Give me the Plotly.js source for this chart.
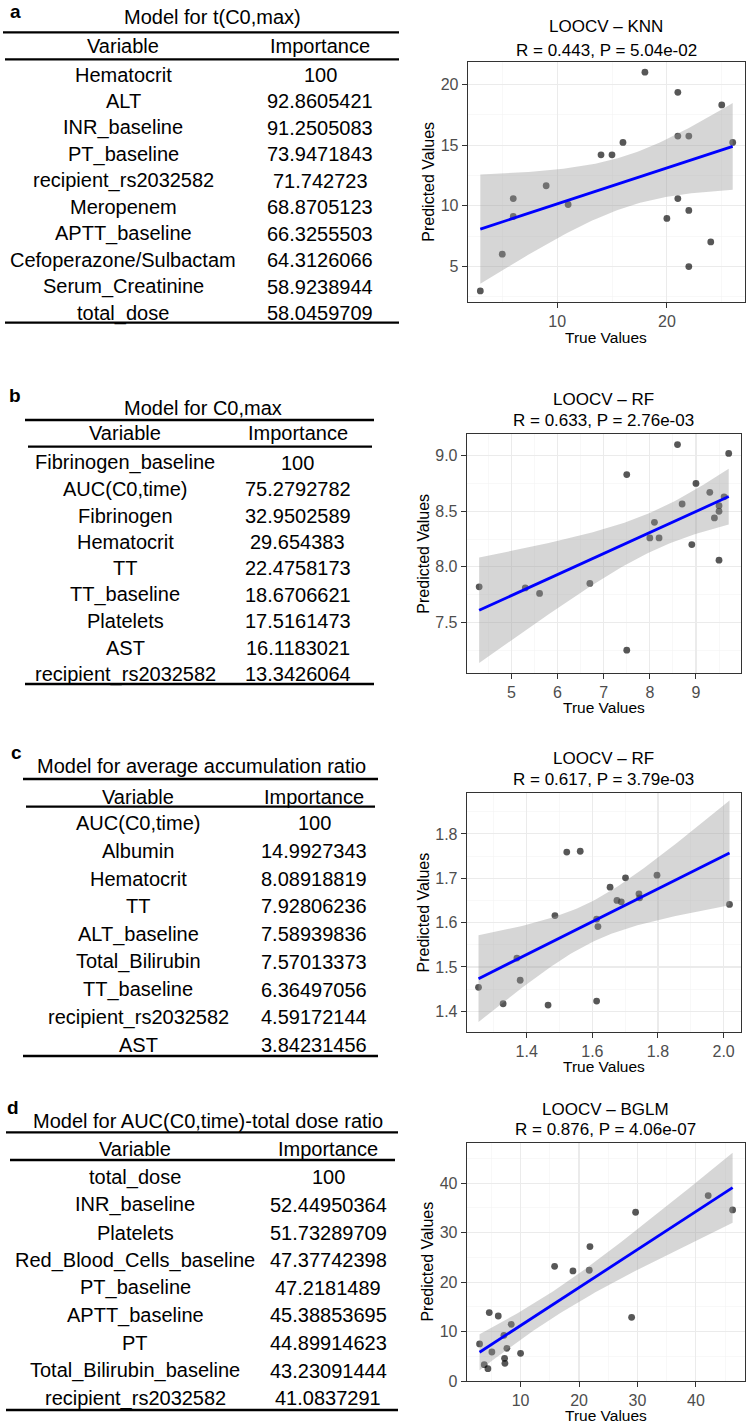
<!DOCTYPE html>
<html>
<head>
<meta charset="utf-8">
<script src="https://cdn.plot.ly/plotly-3.0.1.min.js"></script>
<style>html,body{margin:0;padding:0;background:#fff;}#chart{width:750px;height:1424px;}</style>
</head>
<body>
<div id="chart"></div>
<script>
// ---------------- DATA ----------------
const panelLetters = ['a', 'b', 'c', 'd'];
const tableTitles = [
  'Model for t(C0,max)',
  'Model for C0,max',
  'Model for average accumulation ratio',
  'Model for AUC(C0,time)-total dose ratio'
];
const headerVariable = 'Variable';
const headerImportance = 'Importance';

const varsA = ['Hematocrit', 'ALT', 'INR_baseline', 'PT_baseline', 'recipient_rs2032582', 'Meropenem', 'APTT_baseline', 'Cefoperazone/Sulbactam', 'Serum_Creatinine', 'total_dose'];
const impA = ['100', '92.8605421', '91.2505083', '73.9471843', '71.742723', '68.8705123', '66.3255503', '64.3126066', '58.9238944', '58.0459709'];

const varsB = ['Fibrinogen_baseline', 'AUC(C0,time)', 'Fibrinogen', 'Hematocrit', 'TT', 'TT_baseline', 'Platelets', 'AST', 'recipient_rs2032582'];
const impB = ['100', '75.2792782', '32.9502589', '29.654383', '22.4758173', '18.6706621', '17.5161473', '16.1183021', '13.3426064'];

const varsC = ['AUC(C0,time)', 'Albumin', 'Hematocrit', 'TT', 'ALT_baseline', 'Total_Bilirubin', 'TT_baseline', 'recipient_rs2032582', 'AST'];
const impC = ['100', '14.9927343', '8.08918819', '7.92806236', '7.58939836', '7.57013373', '6.36497056', '4.59172144', '3.84231456'];

const varsD = ['total_dose', 'INR_baseline', 'Platelets', 'Red_Blood_Cells_baseline', 'PT_baseline', 'APTT_baseline', 'PT', 'Total_Bilirubin_baseline', 'recipient_rs2032582'];
const impD = ['100', '52.44950364', '51.73289709', '47.37742398', '47.2181489', '45.38853695', '44.89914623', '43.23091444', '41.0837291'];

const plotTitles1 = ['LOOCV \u2013 KNN', 'LOOCV \u2013 RF', 'LOOCV \u2013 RF', 'LOOCV \u2013 BGLM'];
const plotTitles2 = ['R = 0.443, P = 5.04e-02', 'R = 0.633, P = 2.76e-03', 'R = 0.617, P = 3.79e-03', 'R = 0.876, P = 4.06e-07'];
const xAxisTitle = 'True Values';
const yAxisTitle = 'Predicted Values';

const trueA = [3, 5, 6, 6, 9, 11, 14, 15, 16, 18, 20, 21, 21, 21, 22, 22, 22, 24, 25, 26];
const predA = [3.0, 6.02, 10.6, 9.12, 11.65, 10.11, 14.2, 14.2, 15.22, 21.0, 8.96, 19.34, 15.74, 10.6, 15.74, 9.62, 5.0, 7.03, 18.3, 15.22];

const trueB = [4.30, 5.30, 5.61, 6.70, 7.50, 7.50, 8.00, 8.10, 8.20, 8.60, 8.70, 8.91, 9.00, 9.30, 9.40, 9.50, 9.50, 9.50, 9.61, 9.71];
const predB = [7.82, 7.81, 7.76, 7.85, 8.83, 7.25, 8.26, 8.40, 8.26, 9.10, 8.565, 8.20, 8.75, 8.67, 8.44, 8.55, 8.50, 8.06, 8.63, 9.02];

const trueC = [1.253, 1.328, 1.370, 1.380, 1.465, 1.486, 1.522, 1.563, 1.613, 1.617, 1.613, 1.654, 1.675, 1.688, 1.701, 1.742, 1.744, 1.797, 2.018];
const predC = [1.454, 1.417, 1.520, 1.470, 1.414, 1.616, 1.759, 1.761, 1.608, 1.591, 1.423, 1.680, 1.650, 1.647, 1.701, 1.665, 1.656, 1.707, 1.641];

const trueD = [2.98, 3.78, 4.41, 4.64, 5.09, 6.18, 7.15, 7.26, 7.32, 7.66, 8.40, 10.0, 15.82, 18.96, 21.75, 21.87, 29.0, 29.68, 42.1, 46.28];
const predD = [7.5, 3.3, 2.5, 13.83, 5.87, 13.15, 9.24, 4.59, 3.57, 6.61, 11.47, 5.6, 23.2, 22.26, 22.4, 27.18, 12.88, 34.13, 37.5, 34.6];

// ---------------- LAYOUT GEOMETRY (pixels) ----------------
const W = 750, H = 1424;
const FONT = 'Liberation Sans, Arial, Helvetica, sans-serif';
const px = x => x / W;
const py = y => 1 - y / H;

const frames = [
  {L: 467.7, R: 745, T: 62.3, B: 301.7, xr: [1.85, 27.12], yr: [2.11, 21.81], xd: 10, xm: 5, yd: 5, ym: 2.5, xf: '', yf: '', xs: 0},
  {L: 466.7, R: 740.7, T: 434, B: 672.7, xr: [4.03, 9.97], yr: [7.047, 9.195], xd: 1, xm: 0.5, yd: 0.5, ym: 0.25, xf: '', yf: '.1f', xs: 0},
  {L: 466.7, R: 741, T: 792.7, B: 1031.7, xr: [1.217, 2.053], yr: [1.354, 1.893], xd: 0.2, xm: 0.1, yd: 0.1, ym: 0.05, xf: '.1f', yf: '.1f', xs: 0},
  {L: 466.7, R: 745, T: 1142.7, B: 1381, xr: [0.78, 48.4], yr: [0, 48.2], xd: 10, xm: 5, yd: 10, ym: 5, xf: '', yf: '', xs: -1.5}
];
const titleY = [[26.7, 50], [399.3, 420.7], [758.3, 780], [1109.3, 1129.3]];
const yTitleX = [427.7, 423.3, 423.3, 427.7];
const xTitleY = [337.4, 707.4, 1066.2, 1415.0];

const tables = [
  {vars: varsA, imp: impA, letter: [15, 12], title: [213, 16.7], header: 45.7, c1: 123, c2: 320, row0: 75, pitch: 26.48,
   rules: [[3, 399, 32.3], [5, 399, 59.3], [5, 399, 322.7]]},
  {vars: varsB, imp: impB, letter: [15.3, 395.5], title: [203, 408.3], header: 433.3, c1: 125, c2: 297.7, row0: 462.7, pitch: 26.45,
   rules: [[25, 374, 420], [28, 372, 446.7], [25, 374, 684]]},
  {vars: varsC, imp: impC, letter: [16.2, 752.5], title: [201.7, 766], header: 796.7, c1: 138.3, c2: 314.3, row0: 823.3, pitch: 27.7,
   rules: [[23, 378, 779], [26, 375, 806.7], [23, 378, 1056]]},
  {vars: varsD, imp: impD, letter: [13.3, 1107.5], title: [208.3, 1120.7], header: 1149.3, c1: 135, c2: 328.3, row0: 1177.3, pitch: 27.6,
   rules: [[6, 398, 1132.3], [10, 395, 1160], [6, 398, 1410]]}
];

// ---------------- STATS (lm + 95% CI, as geom_smooth) ----------------
function lgamma(x) {
  const g = 7, c = [0.99999999999980993, 676.5203681218851, -1259.1392167224028, 771.32342877765313,
    -176.61502916214059, 12.507343278686905, -0.13857109526572012, 9.9843695780195716e-6, 1.5056327351493116e-7];
  if (x < 0.5) return Math.log(Math.PI / Math.sin(Math.PI * x)) - lgamma(1 - x);
  x -= 1;
  let a = c[0];
  const t = x + g + 0.5;
  for (let i = 1; i < g + 2; i++) a += c[i] / (x + i);
  return 0.5 * Math.log(2 * Math.PI) + (x + 0.5) * Math.log(t) - t + Math.log(a);
}
function tpdf(x, v) {
  return Math.exp(lgamma((v + 1) / 2) - lgamma(v / 2) - 0.5 * Math.log(v * Math.PI) - (v + 1) / 2 * Math.log(1 + x * x / v));
}
function tHalfCdf(t, v) {
  const n = 400, h = t / n;
  let s = tpdf(0, v) + tpdf(t, v);
  for (let i = 1; i < n; i++) s += (i % 2 ? 4 : 2) * tpdf(i * h, v);
  return s * h / 3;
}
function qt975(v) {
  let lo = 0, hi = 20;
  for (let k = 0; k < 60; k++) {
    const mid = (lo + hi) / 2;
    if (tHalfCdf(mid, v) < 0.475) lo = mid; else hi = mid;
  }
  return (lo + hi) / 2;
}
function smooth(xs, ys) {
  const n = xs.length;
  const mx = xs.reduce((a, b) => a + b, 0) / n;
  const my = ys.reduce((a, b) => a + b, 0) / n;
  let sxx = 0, sxy = 0;
  for (let i = 0; i < n; i++) { sxx += (xs[i] - mx) ** 2; sxy += (xs[i] - mx) * (ys[i] - my); }
  const b = sxy / sxx, a = my - b * mx;
  let sse = 0;
  for (let i = 0; i < n; i++) sse += (ys[i] - a - b * xs[i]) ** 2;
  const s = Math.sqrt(sse / (n - 2));
  const tq = qt975(n - 2);
  const x0 = Math.min(...xs), x1 = Math.max(...xs);
  const gx = [], fit = [], lo = [], hi = [];
  for (let i = 0; i < 80; i++) {
    const x = x0 + (x1 - x0) * i / 79;
    const f = a + b * x;
    const se = s * Math.sqrt(1 / n + (x - mx) ** 2 / sxx);
    gx.push(x); fit.push(f); lo.push(f - tq * se); hi.push(f + tq * se);
  }
  return {gx, fit, lo, hi};
}

// ---------------- BUILD ----------------
const series = [[trueA, predA], [trueB, predB], [trueC, predC], [trueD, predD]];
const traces = [];
const layout = {
  width: W, height: H, margin: {l: 0, r: 0, t: 0, b: 0},
  paper_bgcolor: '#ffffff', plot_bgcolor: '#ffffff', showlegend: false,
  font: {family: FONT, color: '#000'},
  annotations: [], shapes: []
};

series.forEach((sr, i) => {
  const k = i + 1;
  const xa = 'x' + (k === 1 ? '' : k), ya = 'y' + (k === 1 ? '' : k);
  const f = frames[i];
  const sm = smooth(sr[0], sr[1]);
  traces.push({type: 'scatter', mode: 'markers', x: sr[0], y: sr[1], xaxis: xa, yaxis: ya,
    marker: {size: 6.8, color: 'rgba(0,0,0,0.66)', line: {width: 0}}, hoverinfo: 'skip'});
  traces.push({type: 'scatter', mode: 'lines', x: sm.gx.concat(sm.gx.slice().reverse()),
    y: sm.hi.concat(sm.lo.slice().reverse()), xaxis: xa, yaxis: ya, fill: 'toself',
    fillcolor: 'rgba(153,153,153,0.4)', line: {width: 0, color: 'rgba(0,0,0,0)'}, hoverinfo: 'skip'});
  traces.push({type: 'scatter', mode: 'lines', x: sm.gx, y: sm.fit, xaxis: xa, yaxis: ya,
    line: {color: '#0000FF', width: 2.8}, hoverinfo: 'skip'});

  const common = {
    showline: true, mirror: true, linecolor: '#333333', linewidth: 1,
    ticks: 'outside', ticklen: 5, tickwidth: 1, tickcolor: '#333333',
    tickfont: {family: FONT, size: 16, color: '#4D4D4D'},
    showgrid: true, gridcolor: '#EBEBEB', gridwidth: 1.1, zeroline: false,
    tickmode: 'linear', tick0: 0, fixedrange: true
  };
  layout['xaxis' + (k === 1 ? '' : k)] = Object.assign({}, common, {
    domain: [px(f.L), px(f.R)], anchor: ya, range: f.xr, dtick: f.xd, tickformat: f.xf,
    ticklabelstandoff: f.xs,
    minor: {dtick: f.xm, tick0: 0, showgrid: true, gridcolor: '#F3F3F3', gridwidth: 0.6, ticks: ''}
  });
  layout['yaxis' + (k === 1 ? '' : k)] = Object.assign({}, common, {
    domain: [py(f.B), py(f.T)], anchor: xa, range: f.yr, dtick: f.yd, tickformat: f.yf,
    minor: {dtick: f.ym, tick0: 0, showgrid: true, gridcolor: '#F3F3F3', gridwidth: 0.6, ticks: ''}
  });

  const cx = (f.L + f.R) / 2, cy = (f.T + f.B) / 2;
  const ann = (text, x, y, size, extra) => layout.annotations.push(Object.assign({
    text, x: px(x), y: py(y), xref: 'paper', yref: 'paper', showarrow: false, borderpad: 0,
    xanchor: 'center', yanchor: 'middle', font: {family: FONT, size, color: '#000'}
  }, extra || {}));
  ann(plotTitles1[i], cx, titleY[i][0], 17);
  ann(plotTitles2[i], cx, titleY[i][1], 17);
  ann(xAxisTitle, cx, xTitleY[i], 15.5);
  ann(yAxisTitle, yTitleX[i], cy, 16, {textangle: -90});
});

// tables
tables.forEach((t, i) => {
  const ann = (text, x, y, size, bold) => layout.annotations.push({
    text: bold ? '<b>' + text + '</b>' : text, x: px(x), y: py(y), xref: 'paper', yref: 'paper',
    showarrow: false, borderpad: 0, xanchor: 'center', yanchor: 'middle', font: {family: FONT, size, color: '#000'}
  });
  ann(panelLetters[i], t.letter[0], t.letter[1], 19, true);
  ann(tableTitles[i], t.title[0], t.title[1], 20);
  ann(headerVariable, t.c1, t.header, 20);
  ann(headerImportance, t.c2, t.header, 20);
  t.vars.forEach((v, j) => {
    ann(v, t.c1, t.row0 + j * t.pitch, 20);
    ann(t.imp[j], t.c2, t.row0 + j * t.pitch, 20);
  });
  t.rules.forEach(r => layout.shapes.push({
    type: 'line', xref: 'paper', yref: 'paper', x0: px(r[0]), x1: px(r[1]), y0: py(r[2]), y1: py(r[2]),
    line: {color: '#000', width: 2.3}
  }));
});

Plotly.newPlot('chart', traces, layout, {displayModeBar: false, staticPlot: true});
</script>
</body>
</html>
